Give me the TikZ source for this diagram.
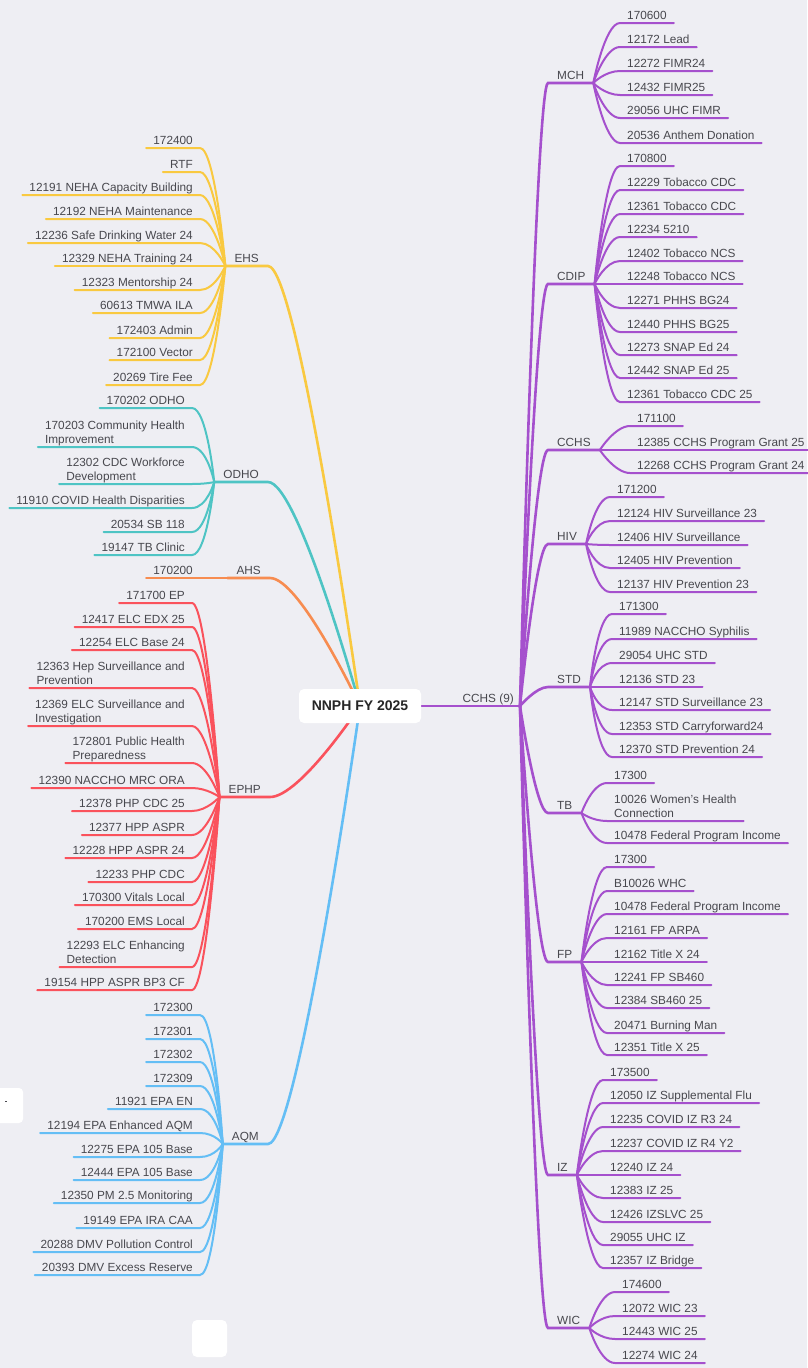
\documentclass[tikz,border=0pt]{standalone}
\usepackage{fontspec}
\setmainfont{Liberation Sans}

\definecolor{bgcol}{RGB}{238,238,243}
\definecolor{txtgray}{RGB}{72,72,78}
\definecolor{ehsc}{RGB}{249,201,64}
\definecolor{odhoc}{RGB}{78,196,196}
\definecolor{ahsc}{RGB}{247,140,80}
\definecolor{ephpc}{RGB}{250,82,92}
\definecolor{aqmc}{RGB}{100,190,245}
\definecolor{cchsc}{RGB}{165,80,205}

\begin{document}
\begin{tikzpicture}[x=1pt, y=-1pt,
  every node/.style={font=\fontsize{11.8}{13.5}\selectfont, text=txtgray, inner ysep=3.5pt, text depth=0pt},
  lleaf/.style={anchor=south east, inner xsep=7pt, align=left},
  rleaf/.style={anchor=south west, inner xsep=7pt, align=left},
  lhub/.style={anchor=south east, inner xsep=9pt},
  rhub/.style={anchor=south west, inner xsep=9pt},
  rootbox/.style={fill=white, rounded corners=5pt, minimum width=122pt, minimum height=34pt,
    font=\fontsize{14}{16}\selectfont\bfseries, text=black!85},
  twig/.style={line width=2pt, line cap=round},
  limb/.style={line width=2.6pt, line cap=round},
  curl/.style={to path={.. controls (\tikztostart) and ([xshift=#1]\tikztotarget) .. (\tikztotarget)}}
]
\useasboundingbox (0,0) rectangle (807,1368);
\fill[bgcol] (0,0) rectangle (807,1368);

\coordinate (ctr) at (360,706);

% left side
\node[lhub] (ehs) at (268,266) {EHS};
\node[lhub] (odho) at (268,482) {ODHO};
\node[lhub] (ahs) at (270,578) {AHS};
\node[lhub] (ephp) at (270,797) {EPHP};
\node[lhub] (aqm) at (268,1144) {AQM};
\foreach \g/\c in {ehs/ehsc, odho/odhoc, ahs/ahsc, ephp/ephpc, aqm/aqmc}
  \draw[limb, \c] (ctr) to[curl=30pt] (\g.south east) -- (\g.south west);

% EHS
\foreach \yy/\txt [count=\i] in {148/172400, 172/RTF, 195/12191 NEHA Capacity Building,
  219/12192 NEHA Maintenance, 243/12236 Safe Drinking Water 24, 266/12329 NEHA Training 24,
  290/12323 Mentorship 24, 313/60613 TMWA ILA, 338/172403 Admin, 360/172100 Vector, 385/20269 Tire Fee}{
  \node[lleaf] (ehs\i) at (200,\yy) {\txt};
  \draw[twig, ehsc] (ehs.south west) to[curl=15pt] (ehs\i.south east) -- (ehs\i.south west);
}

% ODHO
\foreach \yy/\txt [count=\i] in {408/170202 ODHO, 447/{170203 Community Health\\Improvement},
  484/{12302 CDC Workforce\\Development}, 508/11910 COVID Health Disparities,
  532/20534 SB 118, 555/19147 TB Clinic}{
  \node[lleaf] (odho\i) at (192,\yy) {\txt};
  \draw[twig, odhoc] (odho.south west) to[curl=15pt] (odho\i.south east) -- (odho\i.south west);
}

% AHS
\node[lleaf] (ahs1) at (200,578) {170200};
\draw[twig, ahsc] (ahs.south west) -- (ahs1.south east) -- (ahs1.south west);

% EPHP
\foreach \yy/\txt [count=\i] in {603/171700 EP, 627/12417 ELC EDX 25, 650/12254 ELC Base 24,
  688/{12363 Hep Surveillance and\\Prevention}, 726/{12369 ELC Surveillance and\\Investigation},
  763/{172801 Public Health\\Preparedness}, 788/12390 NACCHO MRC ORA, 811/12378 PHP CDC 25,
  835/12377 HPP ASPR, 858/12228 HPP ASPR 24, 882/12233 PHP CDC, 905/170300 Vitals Local,
  929/170200 EMS Local, 967/{12293 ELC Enhancing\\Detection}, 990/19154 HPP ASPR BP3 CF}{
  \node[lleaf] (ephp\i) at (192,\yy) {\txt};
  \draw[twig, ephpc] (ephp.south west) to[curl=15pt] (ephp\i.south east) -- (ephp\i.south west);
}

% AQM
\foreach \yy/\txt [count=\i] in {1015/172300, 1039/172301, 1062/172302, 1086/172309,
  1109/11921 EPA EN, 1133/12194 EPA Enhanced AQM, 1157/12275 EPA 105 Base,
  1180/12444 EPA 105 Base, 1203/12350 PM 2.5 Monitoring, 1228/19149 EPA IRA CAA,
  1252/20288 DMV Pollution Control, 1275/20393 DMV Excess Reserve}{
  \node[lleaf] (aqm\i) at (200,\yy) {\txt};
  \draw[twig, aqmc] (aqm.south west) to[curl=15pt] (aqm\i.south east) -- (aqm\i.south west);
}

% right side
\node[anchor=south east, inner xsep=6pt] (cchs9) at (520,706) {CCHS (9)};
\draw[limb, cchsc] (ctr) -- (cchs9.south east);
\node[rhub] (mch) at (548,83) {MCH};
\node[rhub] (cdip) at (548,284) {CDIP};
\node[rhub] (cchs) at (548,450) {CCHS};
\node[rhub] (hiv) at (548,544) {HIV};
\node[rhub] (std) at (548,687) {STD};
\node[rhub] (tb) at (548,813) {TB};
\node[rhub] (fp) at (548,962) {FP};
\node[rhub] (iz) at (548,1175) {IZ};
\node[rhub] (wic) at (548,1328) {WIC};
\foreach \g in {mch, cdip, cchs, hiv, std, tb, fp, iz, wic}
  \draw[limb, cchsc] (cchs9.south east) to[curl=-12pt] (\g.south west) -- (\g.south east);

% MCH
\foreach \yy/\txt [count=\i] in {23/170600, 47/12172 Lead, 71/12272 FIMR24, 95/12432 FIMR25,
  118/29056 UHC FIMR, 143/20536 Anthem Donation}{
  \node[rleaf] (mch\i) at (620,\yy) {\txt};
  \draw[twig, cchsc] (mch.south east) to[curl=-15pt] (mch\i.south west) -- (mch\i.south east);
}

% CDIP
\foreach \yy/\txt [count=\i] in {166/170800, 190/12229 Tobacco CDC, 214/12361 Tobacco CDC,
  237/12234 5210, 261/12402 Tobacco NCS, 284/12248 Tobacco NCS, 308/12271 PHHS BG24,
  332/12440 PHHS BG25, 355/12273 SNAP Ed 24, 378/12442 SNAP Ed 25, 402/12361 Tobacco CDC 25}{
  \node[rleaf] (cdip\i) at (620,\yy) {\txt};
  \draw[twig, cchsc] (cdip.south east) to[curl=-15pt] (cdip\i.south west) -- (cdip\i.south east);
}

% CCHS
\foreach \yy/\txt [count=\i] in {426/171100, 450/12385 CCHS Program Grant 25,
  473/12268 CCHS Program Grant 24}{
  \node[rleaf] (cchs\i) at (630,\yy) {\txt};
  \draw[twig, cchsc] (cchs.south east) to[curl=-15pt] (cchs\i.south west) -- (cchs\i.south east);
}

% HIV
\foreach \yy/\txt [count=\i] in {497/171200, 521/12124 HIV Surveillance 23,
  545/12406 HIV Surveillance, 568/12405 HIV Prevention, 592/12137 HIV Prevention 23}{
  \node[rleaf] (hiv\i) at (610,\yy) {\txt};
  \draw[twig, cchsc] (hiv.south east) to[curl=-15pt] (hiv\i.south west) -- (hiv\i.south east);
}

% STD
\foreach \yy/\txt [count=\i] in {614/171300, 639/11989 NACCHO Syphilis, 663/29054 UHC STD,
  687/12136 STD 23, 710/12147 STD Surveillance 23, 734/12353 STD Carryforward24,
  757/12370 STD Prevention 24}{
  \node[rleaf] (std\i) at (612,\yy) {\txt};
  \draw[twig, cchsc] (std.south east) to[curl=-15pt] (std\i.south west) -- (std\i.south east);
}

% TB
\foreach \yy/\txt [count=\i] in {783/17300, 821/{10026 Women's Health\\Connection},
  843/10478 Federal Program Income}{
  \node[rleaf] (tb\i) at (607,\yy) {\txt};
  \draw[twig, cchsc] (tb.south east) to[curl=-15pt] (tb\i.south west) -- (tb\i.south east);
}

% FP
\foreach \yy/\txt [count=\i] in {867/17300, 891/B10026 WHC, 914/10478 Federal Program Income,
  938/12161 FP ARPA, 962/12162 Title X 24, 985/12241 FP SB460, 1008/12384 SB460 25,
  1033/20471 Burning Man, 1055/12351 Title X 25}{
  \node[rleaf] (fp\i) at (607,\yy) {\txt};
  \draw[twig, cchsc] (fp.south east) to[curl=-15pt] (fp\i.south west) -- (fp\i.south east);
}

% IZ
\foreach \yy/\txt [count=\i] in {1080/173500, 1103/12050 IZ Supplemental Flu,
  1127/12235 COVID IZ R3 24, 1151/12237 COVID IZ R4 Y2, 1175/12240 IZ 24, 1198/12383 IZ 25,
  1222/12426 IZSLVC 25, 1245/29055 UHC IZ, 1268/12357 IZ Bridge}{
  \node[rleaf] (iz\i) at (603,\yy) {\txt};
  \draw[twig, cchsc] (iz.south east) to[curl=-15pt] (iz\i.south west) -- (iz\i.south east);
}

% WIC
\foreach \yy/\txt [count=\i] in {1292/174600, 1316/12072 WIC 23, 1339/12443 WIC 25, 1363/12274 WIC 24}{
  \node[rleaf] (wic\i) at (615,\yy) {\txt};
  \draw[twig, cchsc] (wic.south east) to[curl=-15pt] (wic\i.south west) -- (wic\i.south east);
}

% stray white tiles
\fill[white, rounded corners=4pt] (-6,1088) rectangle (23,1123);
\draw[txtgray, line width=0.6pt] (5,1101) -- (7,1101);
\fill[white, rounded corners=5pt] (192,1320) rectangle (227,1357);

\node[rootbox] (root) at (ctr) {NNPH FY 2025};
\end{tikzpicture}
\end{document}
